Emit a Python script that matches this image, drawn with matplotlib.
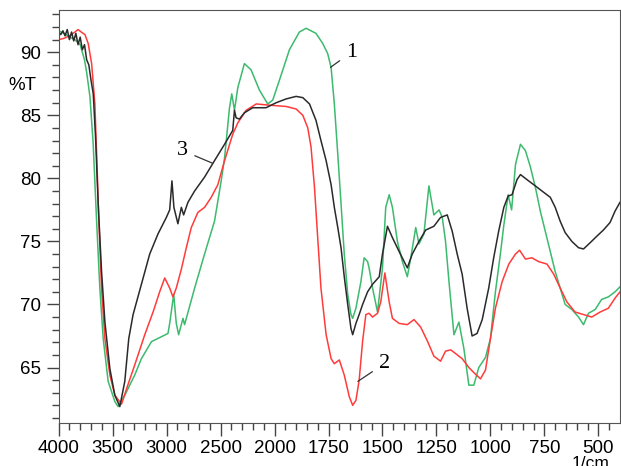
import numpy as np
import matplotlib
matplotlib.use('Agg')
import matplotlib.pyplot as plt

# curve 1 (green)
w1 = [4000, 3950, 3900, 3850, 3800, 3787, 3760, 3740, 3710, 3680, 3648, 3618, 3587, 3541, 3479, 3449,
      3387, 3295, 3233, 3140, 2987, 2971, 2934, 2910, 2888, 2848, 2833, 2740, 2648, 2556, 2494, 2463,
      2417, 2396, 2371, 2340, 2279, 2217, 2140, 2063, 2017, 1977, 1931, 1885, 1854, 1808, 1777, 1754,
      1738, 1723, 1707, 1692, 1677, 1661, 1646, 1638, 1623, 1600, 1585, 1569, 1562, 1546, 1523, 1500,
      1485, 1469, 1454, 1431, 1408, 1385, 1369, 1346, 1331, 1308, 1285, 1262, 1238, 1223, 1208, 1192,
      1169, 1146, 1123, 1100, 1077, 1054, 1023, 1000, 977, 954, 938, 918, 902, 884, 861, 838, 815, 792,
      769, 746, 723, 700, 677, 654, 623, 592, 569, 546, 515, 485, 454, 423, 400]
t1 = [91.7, 91.5, 91.2, 91.0, 90.6, 90.2, 89.4, 88.4, 86.5, 82.8, 76.6, 71.3, 67.3, 63.9, 62.3, 61.9,
      62.8, 64.4, 65.7, 67.05, 67.7, 68.5, 70.8, 68.5, 67.6, 68.9, 68.4, 71.3, 74.0, 76.6, 79.8, 81.6,
      85.6, 86.7, 85.4, 87.2, 89.1, 88.6, 87.0, 85.9, 86.2, 87.8, 90.2, 91.6, 91.9, 91.5, 90.7, 89.9,
      88.8, 85.9, 81.9, 78.0, 74.0, 70.8, 69.2, 68.9, 69.7, 71.8, 73.7, 73.4, 72.9, 71.3, 69.4, 72.9,
      77.7, 78.7, 77.7, 75.0, 73.4, 72.2, 73.7, 76.1, 74.8, 75.6, 79.4, 77.1, 77.5, 76.9, 75.0, 71.8,
      67.6, 68.6, 66.5, 63.6, 63.6, 65.0, 65.8, 67.3, 71.0, 74.0, 76.3, 78.7, 77.5, 81.1, 82.7, 82.2, 80.9, 79.3,
      77.4, 75.8, 74.2, 72.6, 71.3, 70.0, 69.6, 69.0, 68.4, 69.3, 69.6, 70.4, 70.6, 71.0, 71.4]

# curve 2 (red)
w2 = [4000, 3950, 3900, 3849, 3820, 3790, 3756, 3726, 3694, 3664, 3648, 3627, 3602, 3571, 3525, 3479,
      3417, 3371, 3295, 3202, 3125, 3064, 3017, 2971, 2941, 2910, 2863, 2817, 2771, 2710, 2648, 2586,
      2525, 2463, 2387, 2340, 2263, 2169, 2046, 1946, 1900, 1869, 1846, 1831, 1815, 1800, 1785, 1761,
      1738, 1723, 1700, 1677, 1654, 1638, 1623, 1608, 1592, 1577, 1562, 1546, 1523, 1508, 1489, 1469,
      1454, 1423, 1385, 1354, 1323, 1292, 1262, 1231, 1208, 1184, 1161, 1131, 1100, 1077, 1046, 1023,
      1000, 977, 946, 915, 884, 865, 838, 808, 777, 738, 707, 677, 646, 608, 569, 531, 492, 454, 423, 400]
t2 = [91.0, 91.1, 91.3, 91.6, 91.8, 91.6, 91.4, 90.7, 89.1, 85.9, 82.0, 76.6, 71.3, 67.3, 64.4, 62.8,
      62.1, 63.3, 65.2, 67.6, 69.4, 71.0, 72.1, 71.3, 70.6, 71.3, 72.8, 74.5, 76.1, 77.3, 77.7, 78.5,
      79.5, 81.4, 83.5, 84.4, 85.4, 85.9, 85.8, 85.7, 85.5, 85.0, 84.0, 82.5, 79.3, 75.3, 71.3, 67.6,
      65.7, 65.3, 65.6, 64.4, 62.7, 62.0, 62.4, 64.0, 67.1, 69.2, 69.3, 69.0, 69.3, 70.2, 72.5, 70.2,
      68.9, 68.5, 68.4, 68.8, 68.2, 67.1, 65.9, 65.5, 66.3, 66.4, 66.1, 65.7, 65.0, 64.6, 64.1, 64.8,
      67.3, 69.7, 71.8, 73.2, 74.0, 74.3, 73.6, 73.7, 73.4, 73.2, 72.4, 71.3, 70.2, 69.4, 69.2, 69.0, 69.4, 69.7, 70.5, 71.0]

# curve 3 (black)
w3 = [4000, 3980, 3960, 3940, 3920, 3900, 3880, 3860, 3840, 3820, 3800, 3780, 3760, 3740, 3720, 3700,
      3679, 3658, 3633, 3602, 3571, 3525, 3479, 3433, 3387, 3350, 3310, 3233, 3156, 3079, 3002, 2971,
      2950, 2932, 2895, 2863, 2842, 2802, 2740, 2648, 2556, 2463, 2387, 2371, 2356, 2325, 2279, 2202,
      2079, 1992, 1946, 1900, 1869, 1838, 1808, 1785, 1761, 1738, 1723, 1707, 1692, 1677, 1661, 1646,
      1638, 1623, 1608, 1592, 1569, 1546, 1515, 1500, 1477, 1454, 1423, 1385, 1362, 1331, 1300, 1262,
      1231, 1200, 1177, 1154, 1131, 1108, 1085, 1062, 1038, 1008, 985, 962, 938, 918, 900, 877, 861,
      831, 792, 754, 723, 700, 677, 654, 623, 592, 569, 538, 508, 477, 446, 423, 400]
t3 = [91.6, 91.4, 91.7, 91.3, 91.8, 91.0, 91.6, 90.9, 91.5, 90.6, 91.2, 90.2, 90.6, 89.4, 89.0, 87.8,
      86.7, 83.3, 77.9, 72.6, 68.6, 64.9, 62.8, 61.9, 63.9, 67.3, 69.2, 71.6, 74.0, 75.6, 76.9, 77.5,
      79.8, 77.7, 76.4, 77.7, 77.1, 78.1, 79.0, 80.1, 81.4, 82.7, 83.8, 85.4, 84.8, 84.7, 85.2, 85.6,
      85.6, 86.0, 86.3, 86.5, 86.4, 85.9, 84.6, 83.0, 81.4, 79.5, 77.7, 76.1, 74.5, 72.2, 70.0, 68.1,
      67.6, 68.5, 69.2, 70.0, 71.0, 71.6, 72.2, 74.0, 76.2, 75.3, 74.2, 72.9, 74.0, 75.0, 75.9, 76.2,
      76.9, 77.1, 75.8, 74.0, 72.4, 69.7, 67.5, 67.7, 68.8, 71.3, 73.7, 75.8, 77.7, 78.6, 78.7, 79.9, 80.3,
      79.9, 79.4, 78.9, 78.5, 77.7, 76.6, 75.7, 75.0, 74.5, 74.4, 74.9, 75.4, 75.9, 76.5, 77.4, 78.1]

xticks = [4000, 3500, 3000, 2500, 2000, 1750, 1500, 1250, 1000, 750, 500]


# above 2000 1/cm the axis is compressed by half
def fwd(w):
    w = np.asarray(w, dtype=float)
    return np.where(w <= 2000, w, 2000 + (w - 2000) / 2)


def inv(u):
    u = np.asarray(u, dtype=float)
    return np.where(u <= 2000, u, 2000 + (u - 2000) * 2)


plt.rcParams['font.family'] = ['Liberation Sans', 'DejaVu Sans']

fig = plt.figure(figsize=(6.21, 4.66), dpi=100)
ax = fig.add_axes([58.6 / 621, 1 - 423 / 466, (620 - 58.6) / 621, (423 - 10) / 466])
ax.set_xscale('function', functions=(fwd, inv))

ax.plot(w1, t1, color='#3cba6e', lw=1.1)
ax.plot(w2, t2, color='#ff3b3b', lw=1.1)
ax.plot(w3, t3, color='#2a2a2a', lw=1.1)

ax.set_xlim(4000, 400)
ax.set_ylim(60.6, 93.35)

ax.set_xticks(xticks)
ax.set_xticklabels([str(v) for v in xticks])
minor_x = [v for v in list(range(4000, 2000, -100)) + list(range(2000, 400, -50)) if v not in xticks]
ax.set_xticks(minor_x, minor=True)
ax.set_yticks([65, 70, 75, 80, 85, 90])
ax.set_yticks(range(61, 94), minor=True)
ax.tick_params(which='major', length=9, width=1, labelsize=13.5, color='#444444')
ax.tick_params(which='minor', length=5, width=1, color='#444444')
for s in ax.spines.values():
    s.set_color('#555555')

fig.text(22 / 621, 1 - 86 / 466, '%T', fontsize=13.5, ha='center', va='center')
fig.text(591 / 621, 1 - 456 / 466, '1/cm', fontsize=12.5, ha='center', va='top')

lab = dict(fontsize=16, family=['Liberation Serif', 'DejaVu Serif'], ha='center', va='center',
           arrowprops=dict(arrowstyle='-', color='#333333', lw=0.9, shrinkA=3, shrinkB=0))
ax.annotate('1', xy=(1741, 88.8), xytext=(1644, 90.0), **lab)
ax.annotate('2', xy=(1614, 63.9), xytext=(1492, 65.3), **lab)
ax.annotate('3', xy=(2574, 81.2), xytext=(2851, 82.2), **lab)

plt.savefig('out.png', dpi=100)
